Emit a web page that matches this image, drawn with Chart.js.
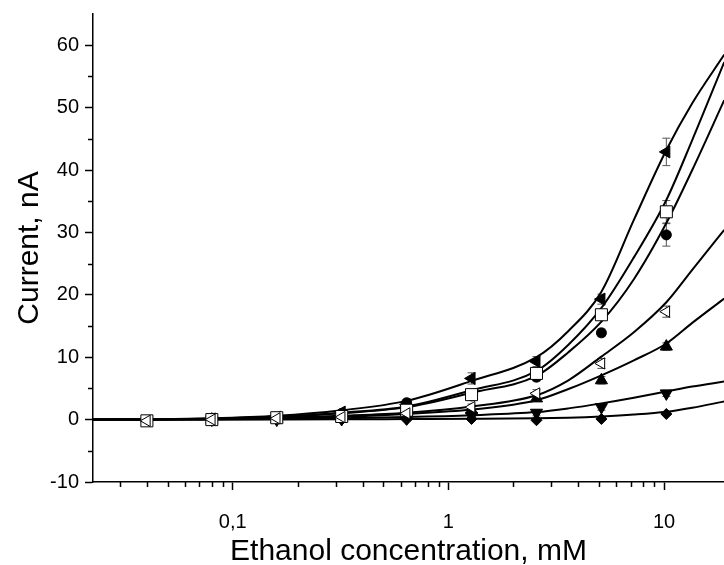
<!DOCTYPE html>
<html>
<head>
<meta charset="utf-8">
<script src="https://cdn.jsdelivr.net/npm/chart.js@4.4.1/dist/chart.umd.min.js"></script>
<style>
  html, body { margin: 0; padding: 0; background: #fff; overflow: hidden; }
  #wrap { width: 724px; height: 565px; }
</style>
</head>
<body>
<div id="wrap"><canvas id="chart" width="724" height="565"></canvas></div>
<script>
// concentrations of the measured points, mM
const conc = [0.04, 0.08, 0.16, 0.32, 0.64, 1.28, 2.56, 5.12, 10.24, 20.48];

// measured current, nA (null = no point)
const triLeft = [null, 0.1, 0.4, 1.2, 2.4, 6.6, 9.3, 19.3, 42.9, null];
const square  = [-0.2, 0.0, 0.3, 0.5, 1.5, 4.0, 7.4, 16.8, 33.3, 60.0];
const circle  = [null, 0.1, 0.3, 1.0, 2.7, 3.8, 6.8, 13.9, 29.6, null];
const triOpen = [-0.2, 0.0, 0.2, 0.4, 1.0, 2.0, 4.2, 9.0, 17.3, null];
const triUp   = [null, 0.0, 0.1, 0.3, 0.7, 1.5, 3.4, 6.3, 11.7, null];
const triDown = [null, 0.0, 0.0, 0.1, 0.2, 0.6, 1.1, 2.0, 4.2, null];
const diamond = [null, 0.0, 0.0, 0.0, 0.0, 0.1, -0.1, 0.1, 0.9, null];

// error bars (+/- nA)
const errTriLeft = [0, 0.2, 0.2, 0.3, 0.4, 0.9, 0.8, 0.8, 2.2, 0];
const errSquare  = [0, 0.2, 0.2, 0.3, 0.4, 0.5, 0.8, 0.6, 1.8, 1.5];
const errCircle  = [0, 0.2, 0.2, 0.3, 0.4, 0.5, 0.6, 0.6, 1.8, 0];
const errTriOpen = [0, 0.2, 0.2, 0.3, 0.4, 0.5, 0.6, 0.8, 0.9, 0];
const errTriUp   = [0, 0.1, 0.1, 0.2, 0.3, 0.5, 0.5, 0.6, 0.6, 0];
const errTriDown = [0, 0.1, 0.1, 0.2, 0.3, 0.5, 0.5, 0.5, 0.5, 0];
const errDiamond = [0, 0.1, 0.1, 0.1, 0.1, 0.2, 0.2, 0.2, 0.2, 0];

// fitted curves at these concentrations
const fitConc    = [0.0225, 0.04, 0.08, 0.16, 0.32, 0.64, 1.28, 2.56, 3.6, 5.12, 7.24, 10.24, 13.5, 19];
const fitTriLeft = [0, 0.05, 0.2, 0.6, 1.5, 3.0, 6.2, 10.0, 14.2, 20.5, 32, 43.2, 50.7, 58.5];
const fitSquare  = [0, 0.03, 0.15, 0.45, 1.1, 2.1, 4.7, 7.8, 12.0, 17.9, 26, 35.2, 44.8, 57.3];
const fitCircle  = [0, 0.03, 0.12, 0.4, 1.0, 2.0, 4.3, 7.0, 10.8, 15.7, 22.5, 31.5, 40, 51.2];
const fitTriOpen = [0, 0.02, 0.08, 0.25, 0.6, 1.1, 2.1, 3.9, 6.3, 10.1, 14, 18.8, 24, 30.4];
const fitTriUp   = [0, 0.02, 0.06, 0.2, 0.45, 0.9, 1.6, 3.1, 4.9, 7.1, 9.5, 12.2, 15.5, 19.4];
const fitTriDown = [0, 0, 0.02, 0.08, 0.2, 0.4, 0.7, 1.2, 1.8, 2.6, 3.5, 4.5, 5.3, 6.1];
const fitDiamond = [0, 0, 0, 0.02, 0.04, 0.08, 0.12, 0.2, 0.3, 0.5, 0.8, 1.25, 1.9, 2.9];

// axis ticks
const xTickVals = [0.03, 0.04, 0.05, 0.06, 0.07, 0.08, 0.09, 0.1,
                   0.2, 0.3, 0.4, 0.5, 0.6, 0.7, 0.8, 0.9, 1,
                   2, 3, 4, 5, 6, 7, 8, 9, 10];
const xMajor = [0.1, 1, 10];
const xLabels = ['0,1', '1', '10'];

const toPoints = (xs, ys) => xs.map((x, i) => ({ x: x, y: ys[i] })).filter(p => p.y !== null);

const markerSet = (data, err, style, rot, r, fill) => ({
  data: toPoints(conc, data),
  err: err,
  showLine: false,
  pointStyle: style,
  rotation: rot,
  pointRadius: r,
  pointHoverRadius: r,
  pointBackgroundColor: fill,
  pointBorderColor: '#000',
  pointBorderWidth: 1,
  clip: false,
  order: 0
});

const fitSet = (data) => ({
  data: toPoints(fitConc, data),
  showLine: true,
  borderColor: '#000',
  borderWidth: 2,
  pointRadius: 0,
  cubicInterpolationMode: 'monotone',
  clip: false,
  order: 10
});

// error bars, drawn under the markers
const errorBars = {
  id: 'errorBars',
  beforeDatasetsDraw(chart) {
    const ctx = chart.ctx;
    const xs = chart.scales.x, ys = chart.scales.y;
    ctx.save();
    ctx.strokeStyle = '#555';
    ctx.lineWidth = 1;
    chart.data.datasets.forEach(ds => {
      if (!ds.err) return;
      ds.data.forEach(p => {
        const e = ds.err[conc.indexOf(p.x)];
        if (!e) return;
        const px = xs.getPixelForValue(p.x);
        const top = ys.getPixelForValue(p.y + e);
        const bot = ys.getPixelForValue(p.y - e);
        ctx.beginPath();
        ctx.moveTo(px, top); ctx.lineTo(px, bot);
        ctx.moveTo(px - 4, top); ctx.lineTo(px + 4, top);
        ctx.moveTo(px - 4, bot); ctx.lineTo(px + 4, bot);
        ctx.stroke();
      });
    });
    ctx.restore();
  }
};

// shorter minor ticks on both axes
const minorTicks = {
  id: 'minorTicks',
  afterDraw(chart) {
    const ctx = chart.ctx;
    const xs = chart.scales.x, ys = chart.scales.y;
    ctx.save();
    ctx.strokeStyle = '#000';
    ctx.lineWidth = 1.5;
    ctx.beginPath();
    xs.ticks.forEach(t => {
      if (xMajor.includes(t.value)) return;
      const px = Math.round(xs.getPixelForValue(t.value)) + 0.5;
      ctx.moveTo(px, xs.top); ctx.lineTo(px, xs.top + 5);
    });
    ys.ticks.forEach(t => {
      if (t.value % 10 === 0 || t.value >= 65) return;
      const py = Math.round(ys.getPixelForValue(t.value)) + 0.5;
      ctx.moveTo(ys.right, py); ctx.lineTo(ys.right - 5, py);
    });
    ctx.stroke();
    ctx.restore();
  }
};

const font = 'Arial, "Liberation Sans", sans-serif';

new Chart(document.getElementById('chart'), {
  type: 'scatter',
  data: {
    datasets: [
      markerSet(triOpen, errTriOpen, 'triangle', -90, 6.5, '#fff'),
      markerSet(square, errSquare, 'rect', 0, 8.5, '#fff'),
      markerSet(triLeft, errTriLeft, 'triangle', -90, 7, '#000'),
      markerSet(circle, errCircle, 'circle', 0, 5, '#000'),
      markerSet(triUp, errTriUp, 'triangle', 0, 7, '#000'),
      markerSet(triDown, errTriDown, 'triangle', 180, 7, '#000'),
      markerSet(diamond, errDiamond, 'rectRot', 0, 5.5, '#000'),
      fitSet(fitTriLeft),
      fitSet(fitSquare),
      fitSet(fitCircle),
      fitSet(fitTriOpen),
      fitSet(fitTriUp),
      fitSet(fitTriDown),
      fitSet(fitDiamond)
    ]
  },
  options: {
    responsive: false,
    animation: false,
    devicePixelRatio: 1,
    layout: { autoPadding: false, padding: { top: 14, right: 0, left: 0, bottom: 0 } },
    plugins: { legend: { display: false }, tooltip: { enabled: false } },
    scales: {
      x: {
        type: 'logarithmic',
        min: 0.0225,
        max: 18.95,
        afterBuildTicks: s => { s.ticks = xTickVals.map(v => ({ value: v })); },
        afterFit: s => { s.height = 83; s.paddingLeft = 0; s.paddingRight = 0; },
        border: { display: true, color: '#000', width: 1.5 },
        grid: {
          drawOnChartArea: false,
          drawTicks: true,
          tickLength: 8,
          tickWidth: 1.5,
          tickColor: c => (c.tick && xMajor.includes(c.tick.value)) ? '#000' : 'rgba(0,0,0,0)'
        },
        ticks: {
          autoSkip: false,
          maxRotation: 0,
          padding: 20,
          color: '#000',
          font: { family: font, size: 20 },
          callback: v => { const i = xMajor.indexOf(v); return i >= 0 ? xLabels[i] : ''; }
        },
        title: {
          display: true,
          text: 'Ethanol concentration, mM',
          color: '#000',
          font: { family: font, size: 30, lineHeight: 0.9 },
          padding: { top: 0, bottom: 0 }
        }
      },
      y: {
        min: -10,
        max: 65,
        afterFit: s => { s.width = 93; s.paddingTop = 0; s.paddingBottom = 0; },
        border: { display: true, color: '#000', width: 1.5 },
        grid: {
          drawOnChartArea: false,
          drawTicks: true,
          tickLength: 8,
          tickWidth: 1.5,
          tickColor: c => (c.tick && c.tick.value % 10 === 0 && c.tick.value < 65) ? '#000' : 'rgba(0,0,0,0)'
        },
        ticks: {
          stepSize: 5,
          padding: 6,
          color: '#000',
          font: { family: font, size: 20 },
          callback: v => (v % 10 === 0 && v < 65) ? String(v) : ''
        },
        title: {
          display: true,
          text: 'Current, nA',
          color: '#000',
          font: { family: font, size: 30, lineHeight: 1 },
          padding: { top: 15, bottom: 0 }
        }
      }
    }
  },
  plugins: [errorBars, minorTicks]
});
</script>
</body>
</html>
